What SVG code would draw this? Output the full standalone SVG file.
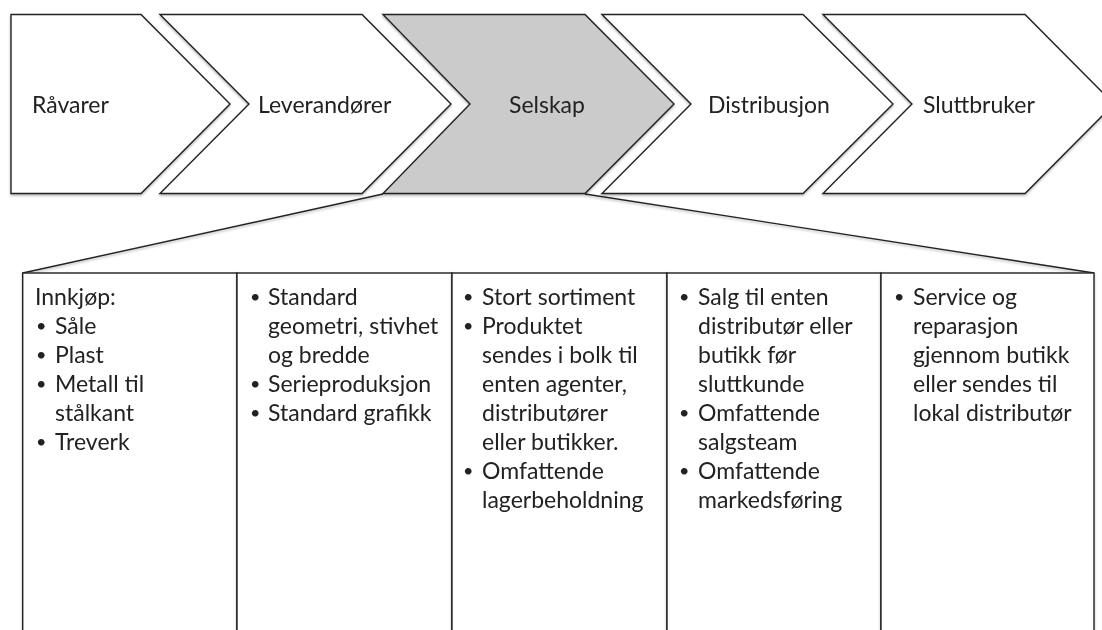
<svg xmlns="http://www.w3.org/2000/svg" width="1102" height="630" viewBox="0 0 1102 630">
  <style>
    .stage { fill: #ffffff; stroke: #222222; stroke-width: 1.4; stroke-linejoin: miter; }
    .stage.active { fill: #cbcbcb; }
    .cell { fill: #ffffff; stroke: #222222; stroke-width: 1.4; }
    .link { fill: none; stroke: #222222; stroke-width: 1.4; }
    .label { font-family: Lato, "Open Sans", sans-serif; font-size: 23px; fill: #222222; }
    .dot { font-size: 18px; }
  </style>
  <defs>
    <filter id="soft-shadow" x="-5%" y="-5%" width="110%" height="115%">
      <feDropShadow dx="0" dy="1.5" stdDeviation="1" flood-color="#000000" flood-opacity="0.3"/>
    </filter>
  </defs>

  <!-- value chain stages -->
  <g id="stage-ravarer" filter="url(#soft-shadow)">
    <polygon class="stage" points="11,14.5 141,14.5 230,104 141,193.5 11,193.5"/>
    <text class="label" x="32" y="113">Råvarer</text>
  </g>
  <g id="stage-leverandorer" filter="url(#soft-shadow)">
    <polygon class="stage" points="160,14.5 362,14.5 451,104 362,193.5 160,193.5 249,104"/>
    <text class="label" x="258" y="113">Leverandører</text>
  </g>
  <g id="stage-selskap" filter="url(#soft-shadow)">
    <polygon class="stage active" points="383,14.5 585,14.5 674,104 585,193.5 383,193.5 470,104"/>
    <text class="label" x="509" y="113">Selskap</text>
  </g>
  <g id="stage-distribusjon" filter="url(#soft-shadow)">
    <polygon class="stage" points="602,14.5 803,14.5 893,104 803,193.5 602,193.5 691,104"/>
    <text class="label" x="708" y="113">Distribusjon</text>
  </g>
  <g id="stage-sluttbruker" filter="url(#soft-shadow)">
    <polygon class="stage" points="823,14.5 1025,14.5 1114,104 1025,193.5 823,193.5 912,104"/>
    <text class="label" x="923" y="113">Sluttbruker</text>
  </g>

  <!-- expansion lines from the highlighted stage to the detail table -->
  <g id="connectors" filter="url(#soft-shadow)">
    <line class="link" x1="383" y1="194" x2="22.7" y2="273"/>
    <line class="link" x1="585" y1="194" x2="1094" y2="273"/>
  </g>

  <!-- detail table -->
  <g id="col-innkjop" filter="url(#soft-shadow)">
    <rect class="cell" x="22.7" y="273" width="214.3" height="370"/>
    <text class="label">
      <tspan x="35" y="305">Innkjøp:</tspan>
      <tspan class="dot" x="36" y="332">•</tspan><tspan x="55" y="334">Såle</tspan>
      <tspan class="dot" x="36" y="361">•</tspan><tspan x="55" y="363">Plast</tspan>
      <tspan class="dot" x="36" y="390">•</tspan><tspan x="55" y="392">Metall til</tspan>
      <tspan x="55" y="421">stålkant</tspan>
      <tspan class="dot" x="36" y="448">•</tspan><tspan x="55" y="450">Treverk</tspan>
    </text>
  </g>
  <g id="col-produksjon" filter="url(#soft-shadow)">
    <rect class="cell" x="237" y="273" width="215" height="370"/>
    <text class="label">
      <tspan class="dot" x="250" y="303">•</tspan><tspan x="268" y="305">Standard</tspan>
      <tspan x="268" y="334">geometri, stivhet</tspan>
      <tspan x="268" y="363">og bredde</tspan>
      <tspan class="dot" x="250" y="390">•</tspan><tspan x="268" y="392">Serieproduksjon</tspan>
      <tspan class="dot" x="250" y="419">•</tspan><tspan x="268" y="421">Standard grafikk</tspan>
    </text>
  </g>
  <g id="col-selskap" filter="url(#soft-shadow)">
    <rect class="cell" x="452" y="273" width="215" height="370"/>
    <text class="label">
      <tspan class="dot" x="463" y="303">•</tspan><tspan x="482" y="305">Stort sortiment</tspan>
      <tspan class="dot" x="463" y="332">•</tspan><tspan x="482" y="334">Produktet</tspan>
      <tspan x="482" y="363">sendes i bolk til</tspan>
      <tspan x="482" y="392">enten agenter,</tspan>
      <tspan x="482" y="421">distributører</tspan>
      <tspan x="482" y="450">eller butikker.</tspan>
      <tspan class="dot" x="463" y="477">•</tspan><tspan x="482" y="479">Omfattende</tspan>
      <tspan x="482" y="508">lagerbeholdning</tspan>
    </text>
  </g>
  <g id="col-distribusjon" filter="url(#soft-shadow)">
    <rect class="cell" x="667" y="273" width="214" height="370"/>
    <text class="label">
      <tspan class="dot" x="679" y="303">•</tspan><tspan x="698" y="305">Salg til enten</tspan>
      <tspan x="698" y="334">distributør eller</tspan>
      <tspan x="698" y="363">butikk før</tspan>
      <tspan x="698" y="392">sluttkunde</tspan>
      <tspan class="dot" x="679" y="419">•</tspan><tspan x="698" y="421">Omfattende</tspan>
      <tspan x="698" y="450">salgsteam</tspan>
      <tspan class="dot" x="679" y="477">•</tspan><tspan x="698" y="479">Omfattende</tspan>
      <tspan x="698" y="508">markedsføring</tspan>
    </text>
  </g>
  <g id="col-sluttbruker" filter="url(#soft-shadow)">
    <rect class="cell" x="881" y="273" width="213" height="370"/>
    <text class="label">
      <tspan class="dot" x="894" y="303">•</tspan><tspan x="913" y="305">Service og</tspan>
      <tspan x="913" y="334">reparasjon</tspan>
      <tspan x="913" y="363">gjennom butikk</tspan>
      <tspan x="913" y="392">eller sendes til</tspan>
      <tspan x="913" y="421">lokal distributør</tspan>
    </text>
  </g>
</svg>
